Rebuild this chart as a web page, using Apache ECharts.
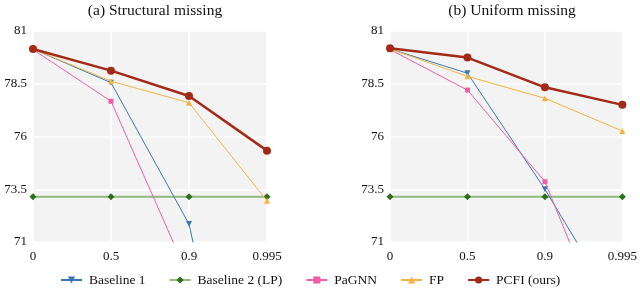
<!DOCTYPE html>
<html><head><meta charset="utf-8">
<script src="https://cdn.jsdelivr.net/npm/echarts@6/dist/echarts.min.js"></script>
<style>html,body{margin:0;padding:0;background:#fff}#c{width:640px;height:292px}</style>
</head><body><div id="c"></div>
<script>
const categories = ['0', '0.5', '0.9', '0.995'];
const yTicks = [71, 73.5, 76, 78.5, 81];
const titles = ['(a) Structural missing', '(b) Uniform missing'];
const seriesNames = ['Baseline 1', 'Baseline 2 (LP)', 'PaGNN', 'FP', 'PCFI (ours)'];
// (a) Structural missing
const a_baseline1 = [80.15, 78.55, 71.85, 55.2];
const a_baseline2 = [73.15, 73.15, 73.15, 73.15];
const a_pagnn = [80.12, 77.67, 69.3, 60.0];
const a_fp = [80.15, 78.62, 77.6, 72.95];
const a_pcfi = [80.15, 79.12, 77.92, 75.33];
// (b) Uniform missing
const b_baseline1 = [80.15, 79.0, 73.5, 67.4];
const b_baseline2 = [73.15, 73.15, 73.15, 73.15];
const b_pagnn = [80.12, 78.2, 73.86, 64.85];
const b_fp = [80.15, 78.85, 77.81, 76.26];
const b_pcfi = [80.18, 79.74, 78.33, 77.5];

const Y0 = yTicks[0], Y1 = yTicks[yTicks.length - 1];
const off = v => +(v - Y0).toFixed(4);
const font = '"Liberation Serif", "DejaVu Serif", serif';

const styles = [
  {color: '#3a78b5', width: 1, symbol: 'triangle', rotate: 180, size: 6},
  {color: '#2f6e1f', line: '#8fba7e', width: 2, symbol: 'diamond', rotate: 0, size: 7},
  {color: '#ee5fa7', width: 1, symbol: 'rect', rotate: 0, size: 5},
  {color: '#f5b342', width: 1, symbol: 'triangle', rotate: 0, size: 6},
  {color: '#a32a17', width: 2.5, symbol: 'circle', rotate: 0, size: 8}
];

const gridDefs = [
  {left: 33, right: 373, top: 31, bottom: 50},
  {left: 390, right: 16, top: 31, bottom: 50}
];
const data = [
  [a_baseline1, a_baseline2, a_pagnn, a_fp, a_pcfi],
  [b_baseline1, b_baseline2, b_pagnn, b_fp, b_pcfi]
];

const grid = gridDefs.map(g => Object.assign({show: true, backgroundColor: '#f3f3f3', borderWidth: 0}, g));
const xAxis = gridDefs.map((g, i) => ({
  type: 'category', gridIndex: i, data: categories, boundaryGap: false,
  axisLine: {show: false}, axisTick: {show: false},
  axisLabel: {fontFamily: font, fontSize: 13, color: '#111', margin: 8},
  splitLine: {show: true, lineStyle: {color: '#ffffff', width: 1.5}}
}));
const yAxis = gridDefs.map((g, i) => ({
  type: 'value', gridIndex: i, min: 0, max: Y1 - Y0, interval: 2.5,
  axisLine: {show: false}, axisTick: {show: false},
  axisLabel: {fontFamily: font, fontSize: 13, color: '#111', margin: 6,
    formatter: v => String(+(v + Y0).toFixed(1))},
  splitLine: {show: true, lineStyle: {color: '#ffffff', width: 1.5}}
}));

const series = [];
data.forEach((set, gi) => {
  set.forEach((vals, si) => {
    const s = styles[si];
    series.push({
      name: seriesNames[si], type: 'line', xAxisIndex: gi, yAxisIndex: gi,
      data: vals.map(off), symbol: s.symbol, symbolRotate: s.rotate, symbolSize: s.size,
      showSymbol: true, clip: true, z: si === 1 ? 1 : 2 + si,
      lineStyle: {color: s.line || s.color, width: s.width},
      itemStyle: {color: s.color},
      emphasis: {disabled: true}, animation: false
    });
  });
});

const chart = echarts.init(document.getElementById('c'), null, {renderer: 'canvas'});
chart.setOption({
  animation: false,
  title: titles.map((t, i) => ({
    text: t, left: i === 0 ? 150 : 507, top: -2, textAlign: 'center',
    textStyle: {fontFamily: font, fontSize: 15.5, fontWeight: 'normal', color: '#111'}
  })),
  grid, xAxis, yAxis, series,
  legend: {
    data: seriesNames, left: 55, top: 268, itemWidth: 21, itemHeight: 9, itemGap: 23,
    textStyle: {fontFamily: font, fontSize: 13.5, color: '#111', padding: [0, 0, 0, 2]}, selectedMode: false
  }
});
</script></body></html>
